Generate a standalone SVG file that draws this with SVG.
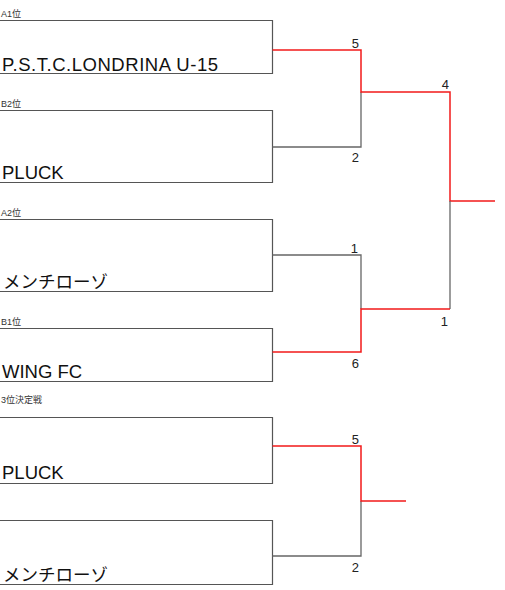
<svg xmlns="http://www.w3.org/2000/svg" width="505" height="590" viewBox="0 0 505 590">
<style>
.box{fill:none;stroke:#555;stroke-width:1.2}
.g{fill:none;stroke:#666;stroke-width:1.3}
.r{fill:none;stroke:#f21a1a;stroke-width:1.5}
.lbl{font-family:"Liberation Sans","Noto Sans CJK JP",sans-serif;font-size:9px;fill:#333}
.team{font-family:"Liberation Sans","Noto Sans CJK JP",sans-serif;font-size:18.5px;fill:#111}
.jp{font-size:17.5px}
.sc{font-family:"Liberation Sans",sans-serif;font-size:13px;fill:#222;text-anchor:end}
</style>
<rect width="505" height="590" fill="#fff"/>
<g id="node-a1">
<text class="lbl" x="1" y="17">A1位</text>
<path class="box" d="M0,20.5H272.5V73.5H0"/>
<text class="team" x="2" y="71" textLength="216" lengthAdjust="spacing">P.S.T.C.LONDRINA U-15</text>
</g>
<g id="node-b2">
<text class="lbl" x="1" y="107">B2位</text>
<path class="box" d="M0,110.5H272.5V182.5H0"/>
<text class="team" x="2" y="179">PLUCK</text>
</g>
<g id="node-a2">
<text class="lbl" x="1" y="216">A2位</text>
<path class="box" d="M0,219.5H272.5V291.5H0"/>
<text class="team jp" x="3" y="288">メンチローゾ</text>
</g>
<g id="node-b1">
<text class="lbl" x="1" y="325">B1位</text>
<path class="box" d="M0,328.5H272.5V381.5H0"/>
<text class="team" x="2" y="378">WING FC</text>
</g>
<g id="node-3rd-a">
<text class="lbl" x="1" y="403">3位決定戦</text>
<path class="box" d="M0,417.5H272.5V483.5H0"/>
<text class="team" x="2" y="479">PLUCK</text>
</g>
<g id="node-3rd-b">
<path class="box" d="M0,520.5H272.5V584.5H0"/>
<text class="team jp" x="3" y="581">メンチローゾ</text>
</g>
<g id="connectors">
<path class="g" d="M272.5,147H361V92"/>
<path class="r" d="M272.5,50H361V92H450V201H495"/>
<path class="g" d="M272.5,255H361V309"/>
<path class="g" d="M450,201V309"/>
<path class="r" d="M272.5,352H361V309H450"/>
<path class="g" d="M272.5,556H361V501"/>
<path class="r" d="M272.5,446H361V501H406"/>
</g>
<g id="scores">
<text class="sc" x="359" y="48">5</text>
<text class="sc" x="359" y="162">2</text>
<text class="sc" x="449" y="89">4</text>
<text class="sc" x="358" y="253">1</text>
<text class="sc" x="359" y="368">6</text>
<text class="sc" x="448" y="326">1</text>
<text class="sc" x="359" y="444">5</text>
<text class="sc" x="359" y="572">2</text>
</g>
</svg>
